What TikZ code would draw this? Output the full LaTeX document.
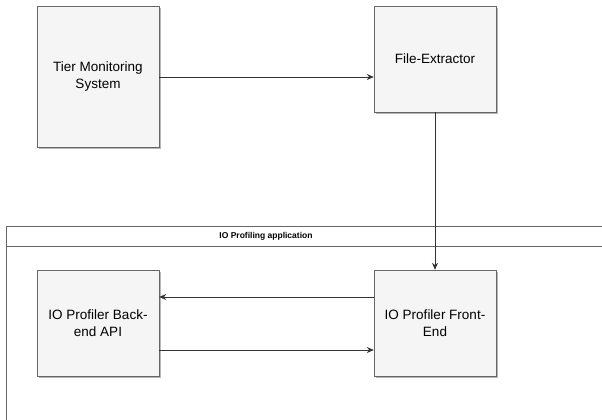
\documentclass[tikz,border=0pt]{standalone}
\usepackage{fontspec}
\setmainfont{Liberation Sans}
\usepackage{tikz}
\usetikzlibrary{arrows.meta}
\usetikzlibrary{shadows}
\usetikzlibrary{calc,positioning}

\definecolor{boxfill}{HTML}{F5F5F5}
\definecolor{boxline}{HTML}{666666}
\definecolor{wire}{HTML}{333333}

\tikzset{
    block/.style={draw=boxline, fill=boxfill, minimum width=122pt, minimum height=106pt,
        align=center, font=\fontsize{13.5}{17.5}\selectfont, inner sep=0pt,
        drop shadow={shadow xshift=2pt, shadow yshift=-2pt, fill=black!40, opacity=.7}},
    link/.style={draw=wire, line width=0.8pt, -{Stealth[length=7pt,width=6pt]}},
}

\begin{document}
\begin{tikzpicture}[x=1pt, y=-1pt, >=Stealth]

    \useasboundingbox (0,0) rectangle (602,420);

    % container of the application
    \coordinate (C) at (6,226);
    \draw[boxline, fill=white] (C) -- (602,226) (6,246) -- (602,246);
    \draw[boxline] (C) -- (6,420);
    \node[font=\fontsize{8.5}{10}\selectfont\bfseries] (title) at (266,236) {IO Profiling application};

    \node[block, minimum height=141pt] (tms) at (98,76.5) {Tier Monitoring\\System};
    \node[block] (fex) at (435,59) {File-Extractor};
    \node[block] (api) at (98,323) {IO Profiler Back-\\end API};
    \node[block] (gui) at (435,323) {IO Profiler Front-\\End};

    \draw[link] (tms.east |- 0,77) -- (fex.west |- 0,77);
    \draw[link] (fex.south) -- (gui.north);
    \draw[link] (gui.west |- 0,297) -- (api.east |- 0,297);
    \draw[link] (api.east |- 0,350) -- (gui.west |- 0,350);

\end{tikzpicture}
\end{document}
